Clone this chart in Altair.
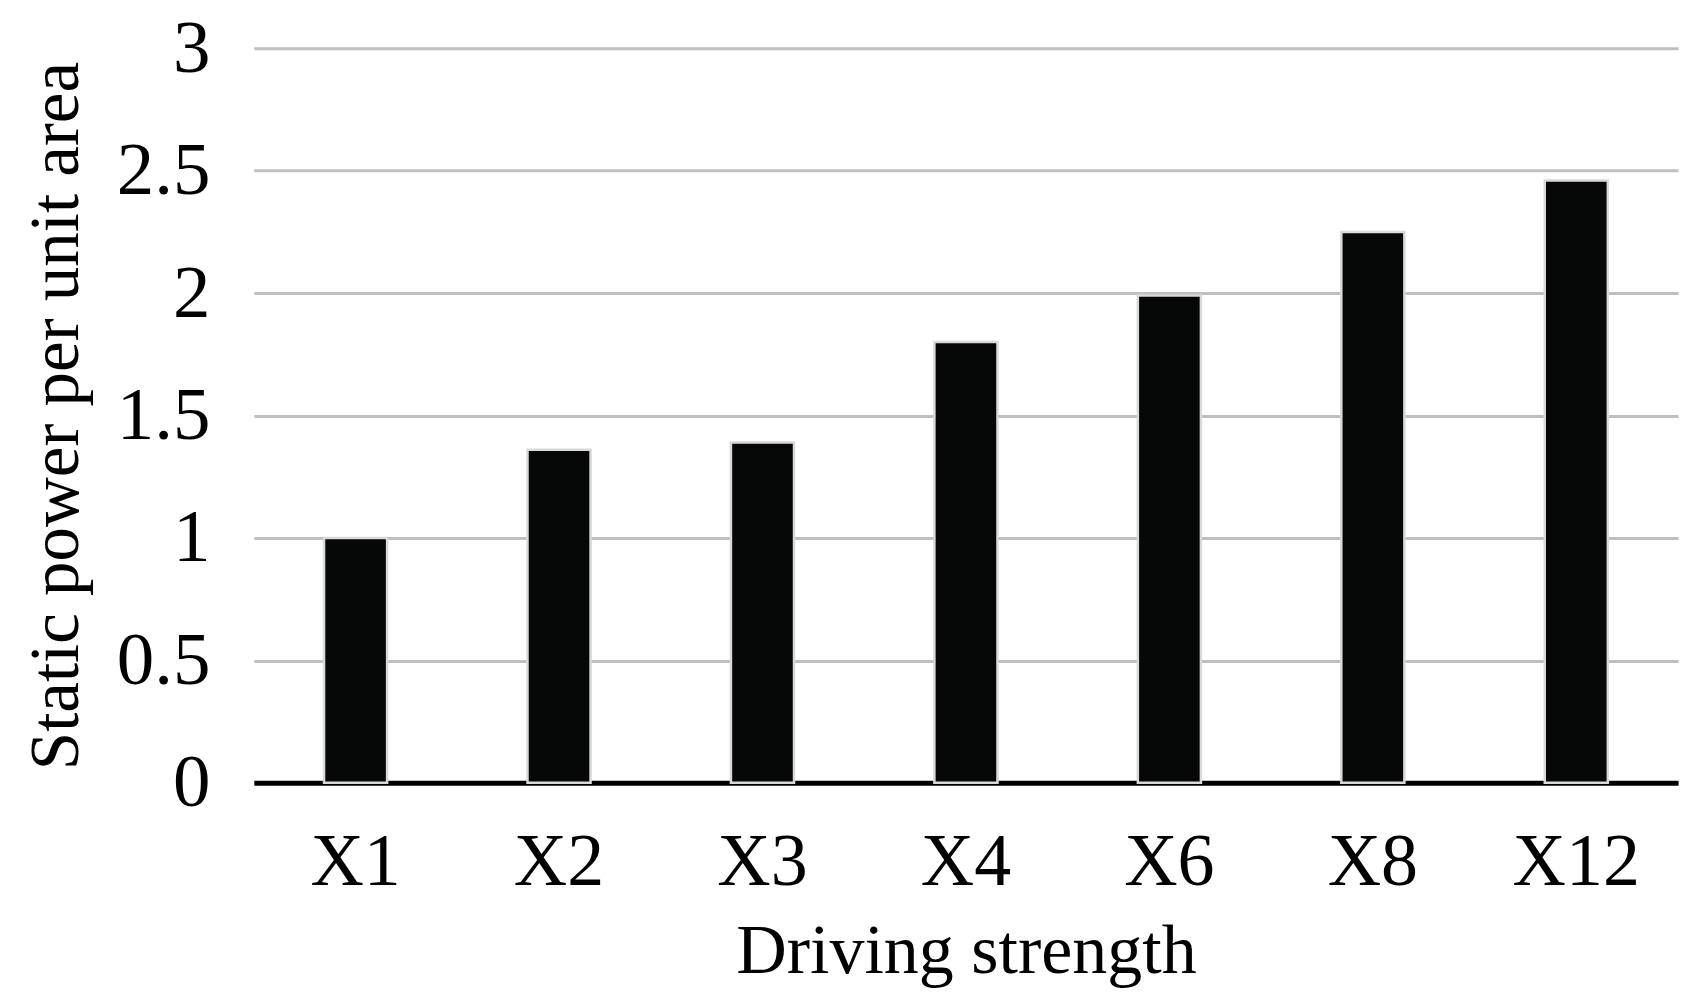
import altair as alt
import pandas as pd

categories = ["X1", "X2", "X3", "X4", "X6", "X8", "X12"]
values = [1.0, 1.36, 1.39, 1.80, 1.99, 2.25, 2.46]
y_ticks = [0, 0.5, 1, 1.5, 2, 2.5, 3]

df = pd.DataFrame({"strength": categories, "power": values})

FONT = "Liberation Serif"

chart = alt.Chart(df).mark_bar(
    color="#060807", stroke="#d9d9d9", strokeWidth=2.5
).encode(
    x=alt.X(
        "strength:N",
        sort=categories,
        scale=alt.Scale(paddingInner=0.69, paddingOuter=0.345),
        axis=alt.Axis(
            title="Driving strength",
            labelAngle=0,
            ticks=False,
            domain=True,
            domainColor="#000000",
            domainWidth=5,
            labelPadding=44,
            titlePadding=18,
            grid=False,
            labelFontSize=74,
            titleFontSize=70,
        ),
    ),
    y=alt.Y(
        "power:Q",
        scale=alt.Scale(domain=[0, 3], nice=False),
        axis=alt.Axis(
            title="Static power per unit area",
            values=y_ticks,
            format="~g",
            ticks=False,
            domain=False,
            grid=True,
            gridColor="#bfbfbf",
            gridWidth=3,
            labelPadding=44,
            titlePadding=25,
            labelFontSize=75,
            titleFontSize=69,
        ),
    ),
).properties(
    width=1425,
    height=735,
    autosize=alt.AutoSizeParams(type="none"),
    padding={"left": 246, "top": 40, "right": 20, "bottom": 215},
).configure_axis(
    labelFont=FONT,
    titleFont=FONT,
    labelColor="#000000",
    titleColor="#000000",
    titleFontWeight="normal",
).configure_view(stroke=None)

chart.save("out.html", embed_options={"renderer": "svg", "actions": False})
